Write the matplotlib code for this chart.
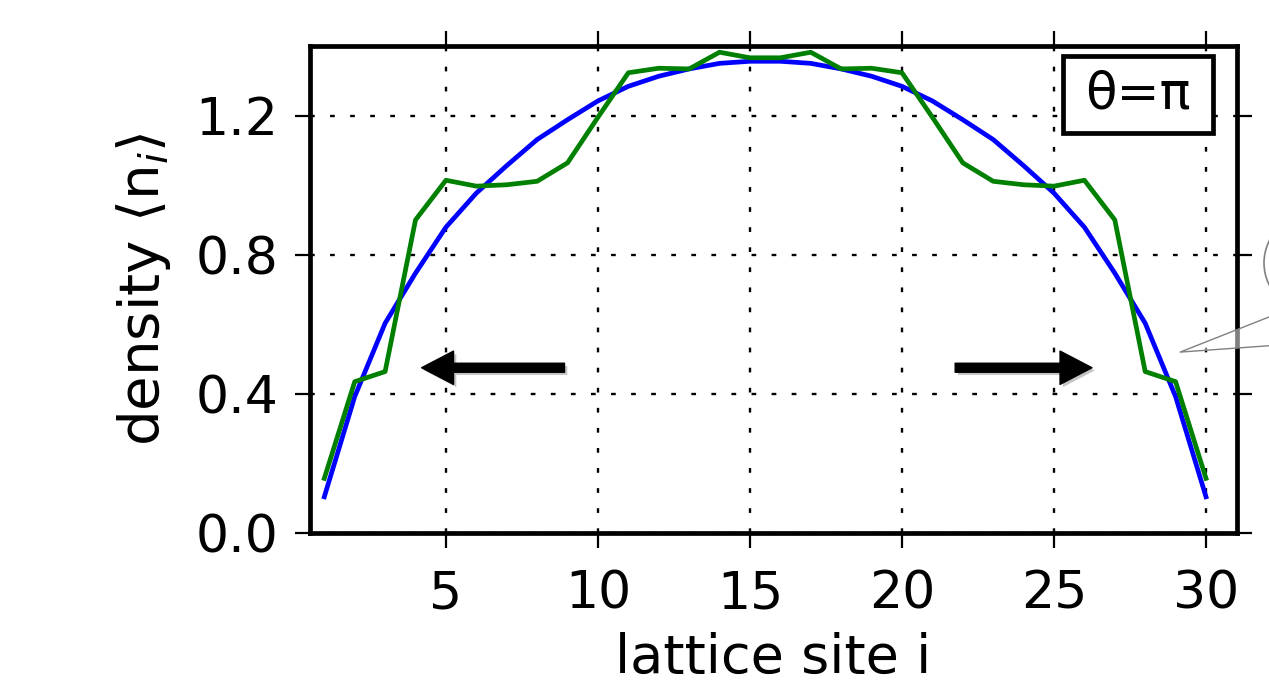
import matplotlib
matplotlib.use("Agg")
import matplotlib.pyplot as plt
import matplotlib.patheffects as pe
from matplotlib.patches import Ellipse, Rectangle

# ---- data ----
sites = list(range(1, 31))
blue_half = [0.104, 0.392, 0.603, 0.747, 0.879, 0.977, 1.056, 1.131, 1.188, 1.242,
             1.284, 1.313, 1.334, 1.350, 1.356]
green_half = [0.157, 0.435, 0.464, 0.900, 1.014, 0.997, 1.001, 1.011, 1.064, 1.195,
              1.323, 1.336, 1.334, 1.382, 1.366]
density_blue = blue_half + blue_half[::-1]
density_green = green_half + green_half[::-1]
xticks = [5, 10, 15, 20, 25, 30]
yticks = [0.0, 0.4, 0.8, 1.2]
ytick_labels = ["0.0", "0.4", "0.8", "1.2"]

plt.rcParams['font.family'] = ['DejaVu Sans']
fig = plt.figure(figsize=(12.69, 6.82), dpi=100)
ax = fig.add_axes([0.2443, 0.2185, 0.7305, 0.7141])

ax.plot(sites, density_blue, color='blue', lw=3.4, zorder=3)
ax.plot(sites, density_green, color='green', lw=3.4, zorder=3)

ax.set_xlim(0.53, 31.02)
ax.set_ylim(0.0, 1.4)
ax.set_xticks(xticks)
ax.set_yticks(yticks)
ax.set_yticklabels(ytick_labels)
ax.grid(True, color='k', linestyle=(0, (2, 6.5)), linewidth=1.7)
ax.tick_params(direction='out', length=11, width=1.6, labelsize=37.5,
               top=True, right=True)
ax.tick_params(axis='x', pad=15)
ax.tick_params(axis='y', pad=12)
for s in ax.spines.values():
    s.set_linewidth(3.4)

ax.set_xlabel('lattice site i', fontsize=39, labelpad=9)
ax.set_ylabel(r'density $\langle$n$_i\rangle$', fontsize=40.5, labelpad=16)

# "θ=π" label box
ax.add_patch(Rectangle((0.8123, 0.8214), 0.9741 - 0.8123, 0.9795 - 0.8214,
                       transform=ax.transAxes, fc='white', ec='black', lw=3.4,
                       zorder=5))
ax.text(0.8932, 0.9004, 'θ=π', transform=ax.transAxes, fontsize=37,
        ha='center', va='center', zorder=6)

shadow = [pe.SimplePatchShadow(offset=(2, -2), shadow_rgbFace='gray', alpha=0.45),
          pe.Normal()]
arrow_style = 'simple,head_length=2.3,head_width=2.4,tail_width=0.65'
ax.annotate('', xy=(4.2, 0.475), xytext=(8.9, 0.475),
            arrowprops=dict(arrowstyle=arrow_style, fc='black', ec='black',
                            mutation_scale=10, shrinkA=0, shrinkB=0,
                            path_effects=shadow), zorder=6)
ax.annotate('', xy=(26.25, 0.475), xytext=(21.75, 0.475),
            arrowprops=dict(arrowstyle=arrow_style, fc='black', ec='black',
                            mutation_scale=10, shrinkA=0, shrinkB=0,
                            path_effects=shadow), zorder=6)

# speech bubble callout, mostly outside the figure
W, H = 1269.0, 682.0
bubble = Ellipse((1326 / W, 1 - 263 / H), 124 / W, 110 / H, transform=fig.transFigure,
                 fc='white', ec='gray', lw=1.2, zorder=7)
fig.patches.append(bubble)
ax.annotate('', xy=(29.15, 0.52), xytext=(1.1003, 0.4415),
            textcoords='axes fraction',
            arrowprops=dict(arrowstyle='wedge,tail_width=1.7,shrink_factor=0.5',
                            mutation_scale=20, shrinkA=0, shrinkB=0,
                            fc=(1, 1, 1, 0.5), ec='gray', lw=1.0),
            annotation_clip=False, zorder=7)

fig.savefig('out.png', dpi=100)
